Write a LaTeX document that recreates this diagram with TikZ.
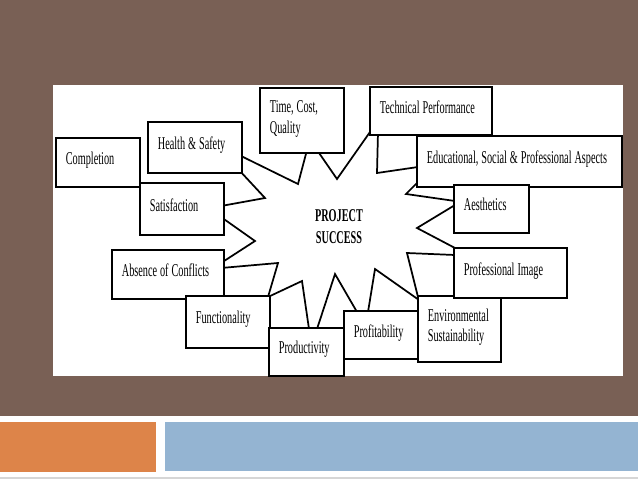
\documentclass[tikz,border=0pt]{standalone}
\usepackage{fontspec}
\setmainfont{Liberation Serif}[FakeStretch=0.57]
\usepackage{tikz}
\usetikzlibrary{positioning}
\definecolor{slidebrown}{RGB}{121,96,85}
\definecolor{slideorange}{RGB}{221,132,73}
\definecolor{slideblue}{RGB}{148,180,210}
\definecolor{slidegray}{RGB}{214,214,214}
\newcommand{\tightwords}{\spaceskip=2.2pt plus 0.3pt\relax\hyphenpenalty=10000\relax}
\tikzset{
  factor/.style={draw=black, fill=white, line width=1.3pt, anchor=north west,
                 inner sep=0pt, align=left,
                 font=\fontsize{13.5}{15.5}\selectfont},
  spike/.style={draw=black, line width=1.3pt, line join=miter},
  hub/.style={font=\fontsize{13.5}{16.5}\selectfont\bfseries, align=center},
}

\begin{document}
\begin{tikzpicture}[x=0.75pt,y=-0.75pt]
  % --- slide background ---
  \useasboundingbox (0,0) rectangle (638,479);
  \fill[slidebrown] (0,0) rectangle (638,416);
  \fill[white] (53,85) rectangle (623,376);
  \fill[slideorange] (0,422) rectangle (156,472);
  \fill[slideblue] (165,422) rectangle (638,471);
  \fill[slidegray] (0,477) rectangle (638,479);

  % --- star outline, tips hidden under the boxes ---
  \draw[spike] (239,155) -- (298,184) -- (307,150) -- (317,150) -- (337,179)
    -- (370,132) -- (378,132) -- (377,173) -- (418,167) -- (418,182)
    -- (406,194) -- (455,201) -- (455,205) -- (417,228) -- (455,248)
    -- (455,255) -- (407,253) -- (418,297) -- (419,300) -- (375,269)
    -- (368,312) -- (357,312) -- (335,274) -- (317,329) -- (309,329)
    -- (302,281) -- (268,297) -- (278,263) -- (221,268) -- (221,263)
    -- (255,241) -- (221,217) -- (221,206) -- (265,198) -- (239,170) -- cycle;

  % --- factor boxes (name/left/top/right/bottom/depth/text) ---
  \foreach \nm/\xa/\ya/\xb/\yb/\td/\txt in {
      compl/55/137/139/186/6.3pt/Completion,
      hs/147/121/241/172/6.3pt/Health \& Safety,
      sat/139/182/223/234/6.3pt/Satisfaction,
      tcq/259/87/343/152/20.8pt/{Time, Cost,\\Quality},
      tech/369/86/491/134/6.3pt/Technical Performance,
      edu/416/135/621/186/6.3pt/{Educational, Social \& Professional Aspects},
      aes/453/184/528/232/6.3pt/Aesthetics,
      absc/111/249/223/298/6.3pt/Absence of Conflicts,
      func/185/295/269/347/6.3pt/Functionality,
      prod/268/327/343/375/6.3pt/Productivity,
      prof/343/310/417/358/6.3pt/Profitability,
      env/417/295/500/361/20.8pt/Environmental\\Sustainability,
      pimg/453/247/566/297/6.3pt/Professional Image}{
    \node[factor, text depth=\td, minimum width={(\xb-\xa)*0.75pt},
          minimum height={(\yb-\ya)*0.75pt}, text width={(\xb-\xa-20)*0.75pt}]
      (\nm) at (\xa,\ya) {\tightwords\txt};
  }

  % --- centre ---
  \node[hub] (ps) at (339,227) {PROJECT\\SUCCESS};
\end{tikzpicture}
\end{document}
